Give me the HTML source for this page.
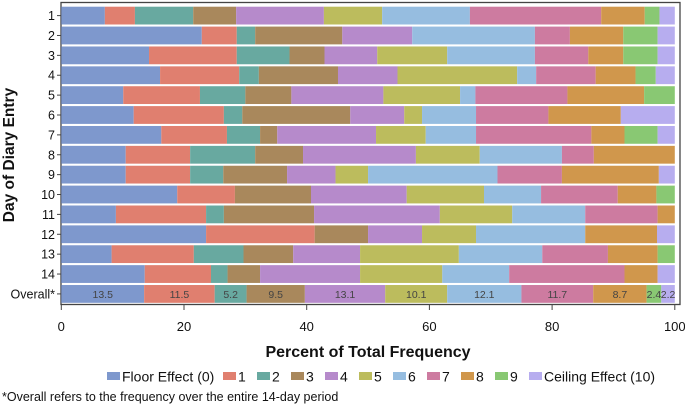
<!DOCTYPE html>
<html><head><meta charset="utf-8">
<style>
body{margin:0;background:#fff;width:685px;height:406px;overflow:hidden;font-family:"Liberation Sans",sans-serif;}
svg{display:block}
</style></head>
<body>
<svg id="chart" width="685" height="406" xmlns="http://www.w3.org/2000/svg" font-family="Liberation Sans, sans-serif">
<g id="plot"></g>
<g id="legend"></g>
<text transform="translate(14,155) rotate(-90)" text-anchor="middle" font-weight="bold" font-size="15.5" fill="#111">Day of Diary Entry</text>
<text x="368" y="357" text-anchor="middle" font-weight="bold" font-size="16" fill="#111">Percent of Total Frequency</text>
<text x="2" y="401" font-size="12.5" fill="#111">*Overall refers to the frequency over the entire 14-day period</text>
</svg>
<script>
const categories = ["1","2","3","4","5","6","7","8","9","10","11","12","13","14","Overall*"];
const seriesNames = ["Floor Effect (0)","1","2","3","4","5","6","7","8","9","Ceiling Effect (10)"];
const s0 = [7.1,22.9,14.3,16.1,10.1,11.8,16.3,10.5,10.5,18.9,8.9,23.6,8.2,13.6,13.5];
const s1 = [4.9,5.7,14.3,12.9,12.5,14.7,10.7,10.5,10.5,9.4,14.7,17.7,13.4,10.8,11.5];
const s2 = [9.5,3.0,8.6,3.2,7.4,3.0,5.4,10.6,5.4,0,2.9,0,8.1,2.7,5.2];
const s3 = [7.0,14.2,5.7,12.9,7.5,17.6,2.8,7.8,10.4,12.4,14.7,8.7,8.1,5.3,9.5];
const s4 = [14.3,11.4,8.6,9.7,15.0,8.8,16.1,18.4,7.9,15.6,20.5,8.8,10.9,16.3,13.1];
const s5 = [9.5,0,11.4,19.5,12.5,2.9,8.1,10.4,5.3,12.6,11.8,8.8,16.1,13.4,10.1];
const s6 = [14.3,20.0,14.3,3.1,2.5,8.8,8.2,13.4,21.1,9.3,11.9,17.8,13.6,10.9,12.1];
const s7 = [21.4,5.7,8.7,9.7,15.0,11.8,18.8,5.2,10.5,12.5,11.8,0,10.7,18.8,11.7];
const s8 = [7.1,8.7,5.7,6.5,12.5,11.8,5.4,13.2,15.8,6.3,2.8,11.7,8.1,5.4,8.7];
const s9 = [2.4,5.6,5.6,3.3,5.0,0,5.4,0,0,3.0,0,0,2.8,0,2.4];
const s10 = [2.5,2.8,2.8,3.1,0,8.8,2.8,0,2.6,0,0,2.9,0,2.8,2.2];
const xTicks = [0,20,40,60,80,100];
const overallLabels = ["13.5","11.5","5.2","9.5","13.1","10.1","12.1","11.7","8.7","2.4","2.2"];

const series = [s0,s1,s2,s3,s4,s5,s6,s7,s8,s9,s10];
const colors = ["#7e98cd","#e07f6f","#68a9a0","#a9885c","#b68acb","#bcbc5d","#96bde0","#cd7ba0","#d0974c","#89c873","#b7adef"];
const NS="http://www.w3.org/2000/svg";
const X0=61.3, X1=674.8, Y0=6.7, PITCH=19.88, BH=17.8;
const xScale = v => X0 + (v/100)*(X1-X0);
const yScale = i => Y0 + i*PITCH;
function mk(tag, attrs, parent){const e=document.createElementNS(NS,tag);for(const k in attrs)e.setAttribute(k,attrs[k]);parent.appendChild(e);return e;}
const plot=document.getElementById('plot');
const frame=mk('rect',{x:61,y:2.5,width:619,height:302,fill:'none',stroke:'#444','stroke-width':1.3},plot);


categories.forEach((c,i)=>{
  let cum=0;
  series.forEach((s,k)=>{
    const v=s[i];
    const r=mk('rect',{x:xScale(cum),y:yScale(i),width:Math.max(0,xScale(cum+v)-xScale(cum)),height:BH,fill:colors[k]},plot);
    
    
    if(i===categories.length-1){
      const t=mk('text',{x:xScale(cum+v/2),y:yScale(i)+BH/2+4,'text-anchor':'middle','font-size':10.5,fill:'#444'},plot);
      t.textContent=overallLabels[k];
      
      
    }
    cum+=v;
  });
  const tk=mk('line',{x1:57,x2:61,y1:yScale(i)+BH/2,y2:yScale(i)+BH/2,stroke:'#444'},plot);
  
  
  const lb=mk('text',{x:55,y:yScale(i)+BH/2+4.5,'text-anchor':'end','font-size':12.5,fill:'#111'},plot);
  lb.textContent=c;
  
  
});
xTicks.forEach(t=>{
  const l=mk('line',{x1:xScale(t),x2:xScale(t),y1:304,y2:310,stroke:'#444'},plot);
  
  
  const tx=mk('text',{x:xScale(t),y:331,'text-anchor':'middle','font-size':13,fill:'#111'},plot);
  tx.textContent=t;
  
  
});
const legend=document.getElementById('legend');
const lx=[107,223,257,291,325,359,393,427,461,495,529];
seriesNames.forEach((n,k)=>{
  const sw=mk('rect',{x:lx[k],y:372,width:13,height:8,fill:colors[k]},legend);
  
  
  const t=mk('text',{x:lx[k]+15,y:381.5,'font-size':14,fill:'#111'},legend);
  t.textContent=n;
  
  
});
</script>
</body></html>
